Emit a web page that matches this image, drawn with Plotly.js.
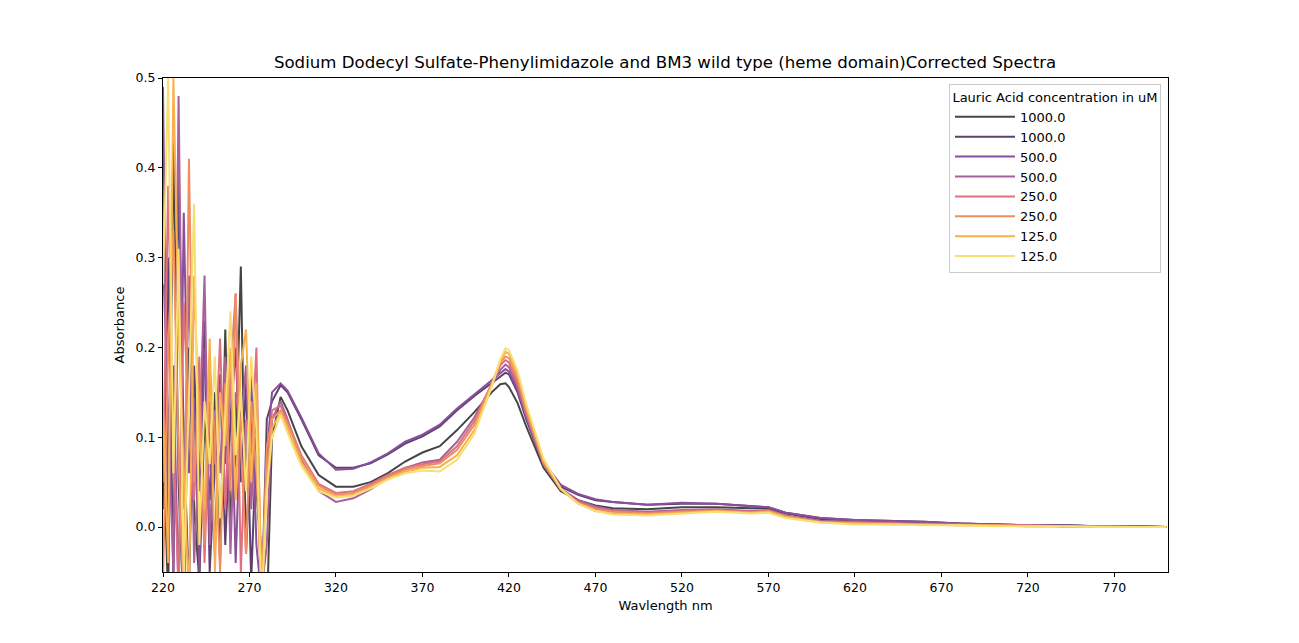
<!DOCTYPE html>
<html>
<head>
<meta charset="utf-8">
<script src="https://cdn.plot.ly/plotly-3.0.1.min.js"></script>
<style>body{margin:0;background:#fff}</style>
</head>
<body>
<div id="chart" style="width:1299px;height:643px"></div>
<script>
// Wavelengths: noisy region then smooth region
var wl_noise = [220,223,226,229,232,235,238,241,244,247,250,253,256,259,262,265,268,271,274,277,280,283];
var wl_smooth = [288,292,300,310,320,330,340,350,360,370,380,390,400,410,415,418,420,425,430,440,450,460,470,480,500,520,540,560,570,580,600,620,640,660,680,700,720,740,760,780,800];

var labels = ['1000.0','1000.0','500.0','500.0','250.0','250.0','125.0','125.0'];
var colors = ['#454545','#5b4070','#8a4f9a','#a8619a','#de707f','#f08c62','#f7b04c','#f8df72'];

// Noise below 285 nm, one array per sample
var noise_1 = [0.10,-0.08,0.44,0.05,-0.10,0.20,0.02,-0.06,0.12,0.03,0.15,-0.04,0.22,0.01,0.08,0.29,-0.03,0.12,0.04,-0.04,-0.10,0.10];
var noise_2 = [0.02,0.30,-0.06,0.39,0.10,-0.07,0.18,0.04,0.23,-0.05,0.07,0.17,-0.02,0.12,0.20,0.05,0.16,-0.06,0.10,-0.09,0.12,0.14];
var noise_3 = [0.49,-0.02,0.18,-0.08,0.35,0.06,0.14,-0.05,0.20,0.09,-0.03,0.16,0.07,0.19,-0.04,0.13,0.06,0.17,-0.02,-0.08,0.08,0.15];
var noise_4 = [0.30,0.12,-0.05,0.48,0.02,0.28,-0.04,0.09,0.28,-0.02,0.13,0.06,0.19,-0.03,0.15,0.11,0.18,0.02,0.14,-0.07,-0.02,0.12];
var noise_5 = [0.05,0.38,0.10,-0.07,0.25,0.11,0.03,0.19,-0.04,0.14,0.07,0.21,0.02,0.17,0.26,-0.05,0.12,0.08,0.20,-0.10,0.06,0.13];
var noise_6 = [-0.06,0.20,0.33,0.08,-0.09,0.41,0.05,0.15,-0.02,0.18,0.10,-0.05,0.16,0.04,0.26,0.09,-0.03,0.14,0.06,-0.08,0.09,0.12];
var noise_7 = [0.13,-0.04,0.50,0.22,0.06,-0.08,0.28,0.10,0.02,0.21,-0.05,0.15,0.09,0.20,0.03,0.18,0.22,0.05,0.16,-0.06,0.05,0.11];
var noise_8 = [0.27,0.50,0.06,0.31,-0.06,0.16,0.36,-0.02,0.14,0.07,0.19,0.01,0.12,0.24,0.08,0.15,0.04,0.19,0.11,-0.09,0.04,0.10];

// Smooth spectra above 285 nm
var smooth_1 = [0.145,0.130,0.090,0.058,0.045,0.045,0.050,0.060,0.073,0.083,0.090,0.108,0.128,0.150,0.159,0.160,0.156,0.138,0.112,0.066,0.040,0.030,0.024,0.021,0.020,0.022,0.022,0.021,0.021,0.015,0.009,0.007,0.006,0.005,0.004,0.003,0.002,0.002,0.001,0.001,0.000];
var smooth_2 = [0.158,0.150,0.120,0.080,0.066,0.066,0.071,0.081,0.093,0.101,0.112,0.130,0.146,0.160,0.168,0.172,0.170,0.150,0.120,0.070,0.045,0.036,0.030,0.028,0.025,0.026,0.026,0.023,0.022,0.016,0.010,0.008,0.007,0.006,0.004,0.003,0.002,0.002,0.001,0.001,0.000];
var smooth_3 = [0.160,0.152,0.122,0.082,0.064,0.065,0.072,0.082,0.095,0.103,0.114,0.132,0.148,0.163,0.172,0.176,0.173,0.153,0.123,0.072,0.047,0.037,0.031,0.028,0.025,0.027,0.026,0.023,0.022,0.016,0.010,0.008,0.007,0.006,0.004,0.003,0.002,0.002,0.001,0.001,0.000];
var smooth_4 = [0.140,0.120,0.075,0.040,0.028,0.032,0.042,0.055,0.066,0.072,0.075,0.095,0.122,0.158,0.175,0.181,0.178,0.156,0.124,0.070,0.043,0.030,0.023,0.019,0.017,0.019,0.020,0.018,0.019,0.013,0.007,0.006,0.005,0.004,0.003,0.002,0.002,0.001,0.001,0.001,0.000];
var smooth_5 = [0.135,0.118,0.080,0.048,0.038,0.040,0.048,0.058,0.066,0.070,0.073,0.090,0.118,0.160,0.180,0.186,0.183,0.160,0.127,0.070,0.042,0.028,0.021,0.018,0.016,0.018,0.019,0.017,0.018,0.012,0.006,0.005,0.004,0.003,0.003,0.002,0.002,0.001,0.001,0.000,0.000];
var smooth_6 = [0.130,0.115,0.078,0.046,0.036,0.038,0.046,0.056,0.064,0.068,0.071,0.086,0.114,0.160,0.183,0.190,0.188,0.165,0.130,0.072,0.042,0.027,0.020,0.017,0.015,0.017,0.018,0.016,0.018,0.012,0.006,0.004,0.004,0.003,0.002,0.002,0.001,0.001,0.001,0.000,0.000];
var smooth_7 = [0.128,0.110,0.072,0.043,0.034,0.036,0.044,0.054,0.062,0.066,0.067,0.080,0.108,0.158,0.185,0.195,0.193,0.170,0.134,0.074,0.042,0.026,0.018,0.015,0.014,0.016,0.018,0.016,0.017,0.011,0.005,0.004,0.003,0.003,0.002,0.002,0.001,0.001,0.000,0.000,0.000];
var smooth_8 = [0.125,0.105,0.068,0.040,0.033,0.035,0.043,0.053,0.060,0.063,0.062,0.075,0.104,0.156,0.187,0.199,0.197,0.174,0.137,0.076,0.043,0.026,0.018,0.014,0.013,0.015,0.017,0.015,0.016,0.010,0.005,0.003,0.003,0.002,0.002,0.001,0.001,0.001,0.000,0.000,0.000];

var noise = [noise_1,noise_2,noise_3,noise_4,noise_5,noise_6,noise_7,noise_8];
var smooth = [smooth_1,smooth_2,smooth_3,smooth_4,smooth_5,smooth_6,smooth_7,smooth_8];
var wl = wl_noise.concat(wl_smooth);

var traces = labels.map(function(lab, i) {
    return {
        x: wl,
        y: noise[i].concat(smooth[i]),
        mode: 'lines',
        name: lab,
        line: {color: colors[i], width: 2}
    };
});

var axisStyle = {
    showgrid: false, zeroline: false, showline: true, mirror: true,
    linecolor: '#000', linewidth: 1, ticks: 'outside', ticklen: 4,
    tickcolor: '#000', tickfont: {size: 12.5, color: '#000'}
};

var layout = {
    font: {family: 'DejaVu Sans', color: '#000'},
    title: {text: 'Sodium Dodecyl Sulfate-Phenylimidazole and BM3 wild type (heme domain)Corrected Spectra',
            font: {size: 16.6}, x: 0.512, xanchor: 'center', y: 0.903, yanchor: 'middle'},
    xaxis: Object.assign({}, axisStyle, {
        title: {text: 'Wavlength nm', font: {size: 13}, standoff: 6},
        range: [220, 801], tickvals: [220,270,320,370,420,470,520,570,620,670,720,770]
    }),
    yaxis: Object.assign({}, axisStyle, {
        title: {text: 'Absorbance', font: {size: 13}, standoff: 8},
        range: [-0.05, 0.5], tickvals: [0,0.1,0.2,0.3,0.4,0.5], tickformat: '.1f'
    }),
    legend: {
        title: {text: 'Lauric Acid concentration in uM', font: {size: 13}, side: 'top center'},
        x: 0.993, xanchor: 'right', y: 0.988, yanchor: 'top',
        bordercolor: '#ccc', borderwidth: 1, bgcolor: 'rgba(255,255,255,0.8)',
        font: {size: 13}, tracegroupgap: 0, itemwidth: 60
    },
    margin: {l: 163, r: 131, t: 78, b: 71},
    paper_bgcolor: '#fff', plot_bgcolor: '#fff',
    showlegend: true
};

Plotly.newPlot('chart', traces, layout, {displayModeBar: false});
</script>
</body>
</html>
